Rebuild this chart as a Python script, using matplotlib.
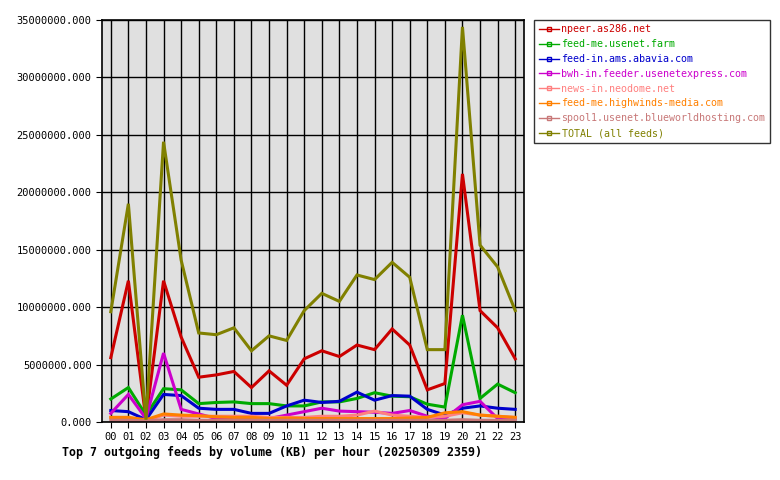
import matplotlib
matplotlib.use("Agg")
import matplotlib.pyplot as plt
from matplotlib.lines import Line2D
import numpy as np

hours = ["%02d" % h for h in range(24)]

# values in KB per hour
npeer = [5.6e6, 12.3e6, 0.2e6, 12.3e6, 7.4e6, 3.9e6, 4.1e6, 4.4e6, 3.0e6, 4.45e6, 3.2e6, 5.5e6,
         6.2e6, 5.7e6, 6.7e6, 6.3e6, 8.1e6, 6.7e6, 2.8e6, 3.35e6, 21.6e6, 9.7e6, 8.2e6, 5.5e6]
usenet_farm = [2.0e6, 3.0e6, 0.6e6, 2.9e6, 2.8e6, 1.6e6, 1.7e6, 1.75e6, 1.6e6, 1.6e6, 1.4e6, 1.4e6,
               1.75e6, 1.75e6, 2.05e6, 2.55e6, 2.25e6, 2.2e6, 1.55e6, 1.3e6, 9.3e6, 2.05e6, 3.3e6, 2.55e6]
abavia = [1.0e6, 0.9e6, 0.2e6, 2.4e6, 2.3e6, 1.2e6, 1.1e6, 1.1e6, 0.75e6, 0.75e6, 1.4e6, 1.9e6,
          1.7e6, 1.8e6, 2.6e6, 1.9e6, 2.3e6, 2.25e6, 1.1e6, 0.6e6, 1.2e6, 1.4e6, 1.2e6, 1.1e6]
usenetexpress = [0.75e6, 2.4e6, 0.3e6, 6.0e6, 1.1e6, 0.7e6, 0.3e6, 0.3e6, 0.3e6, 0.3e6, 0.6e6, 0.9e6,
                 1.2e6, 0.95e6, 0.9e6, 0.85e6, 0.75e6, 1.0e6, 0.5e6, 0.3e6, 1.5e6, 1.8e6, 0.3e6, 0.3e6]
neodome = [0.4e6, 0.4e6, 0.1e6, 0.6e6, 0.5e6, 0.5e6, 0.5e6, 0.5e6, 0.5e6, 0.4e6, 0.4e6, 0.4e6,
           0.5e6, 0.5e6, 0.6e6, 0.95e6, 0.6e6, 0.5e6, 0.4e6, 0.5e6, 0.8e6, 0.6e6, 0.5e6, 0.4e6]
highwinds = [0.4e6, 0.4e6, 0.2e6, 0.7e6, 0.6e6, 0.55e6, 0.45e6, 0.4e6, 0.4e6, 0.3e6, 0.35e6, 0.3e6,
             0.3e6, 0.3e6, 0.3e6, 0.3e6, 0.3e6, 0.35e6, 0.4e6, 0.8e6, 0.9e6, 0.6e6, 0.5e6, 0.4e6]
blueworld = [0.15e6, 0.15e6, 0.1e6, 0.2e6, 0.2e6, 0.15e6, 0.15e6, 0.15e6, 0.15e6, 0.15e6, 0.15e6, 0.15e6,
             0.15e6, 0.15e6, 0.15e6, 0.15e6, 0.15e6, 0.15e6, 0.15e6, 0.15e6, 0.2e6, 0.15e6, 0.15e6, 0.15e6]
total = [9.6e6, 19.0e6, 0.2e6, 24.4e6, 14.1e6, 7.75e6, 7.6e6, 8.2e6, 6.2e6, 7.5e6, 7.1e6, 9.7e6,
         11.2e6, 10.5e6, 12.8e6, 12.4e6, 13.9e6, 12.6e6, 6.3e6, 6.3e6, 34.4e6, 15.4e6, 13.5e6, 9.7e6]

series = [
    ("npeer.as286.net", npeer, "#cc0000"),
    ("feed-me.usenet.farm", usenet_farm, "#00aa00"),
    ("feed-in.ams.abavia.com", abavia, "#0000cc"),
    ("bwh-in.feeder.usenetexpress.com", usenetexpress, "#cc00cc"),
    ("news-in.neodome.net", neodome, "#ff8080"),
    ("feed-me.highwinds-media.com", highwinds, "#ff8000"),
    ("spool1.usenet.blueworldhosting.com", blueworld, "#c87878"),
    ("TOTAL (all feeds)", total, "#808000"),
]

plt.rcParams['font.family'] = 'DejaVu Sans Mono'

fig = plt.figure(figsize=(7.8, 4.8), dpi=100)
ax = fig.add_axes([102/780, 58/480, 422/780, 402/480])
ax.set_facecolor("#e0e0e0")

x = np.arange(len(hours))
for name, vals, col in series:
    ax.plot(x, vals, color=col, lw=2.2, solid_joinstyle='miter')

ax.set_xlim(-0.5, 23.5)
ax.set_ylim(0, 35e6)
ax.set_xticks(x)
ax.set_xticklabels(hours, fontsize=7.5)
yt = np.arange(0, 35e6 + 1, 5e6)
ax.set_yticks(yt)
ax.set_yticklabels(["%.3f" % v for v in yt], fontsize=7.5)
ax.grid(True, color="black", lw=1)
ax.set_axisbelow(True)
ax.tick_params(direction='out', length=4, color='black')
for s in ax.spines.values():
    s.set_linewidth(1.2)

# legend: thin line with a small hollow square in the middle
handles = [Line2D([0], [0], color=col, lw=1, marker='s', markersize=3,
                  markerfacecolor='none', markeredgecolor=col) for _, _, col in series]
leg = fig.legend(handles, [s[0] for s in series], loc='upper left',
                 bbox_to_anchor=(534/780, 1 - 20/480), fontsize=7.2,
                 frameon=True, fancybox=False, edgecolor='black',
                 handlelength=2.0, handletextpad=0.3, labelspacing=0.48,
                 borderpad=0.45, borderaxespad=0)
leg.get_frame().set_linewidth(1)
for txt, (_, _, col) in zip(leg.get_texts(), series):
    txt.set_color(col)

fig.text(62/780, 1 - 452/480, "Top 7 outgoing feeds by volume (KB) per hour (20250309 2359)",
         fontsize=8.4, fontweight='bold', va='center', ha='left')

fig.savefig("out.png", dpi=100)
